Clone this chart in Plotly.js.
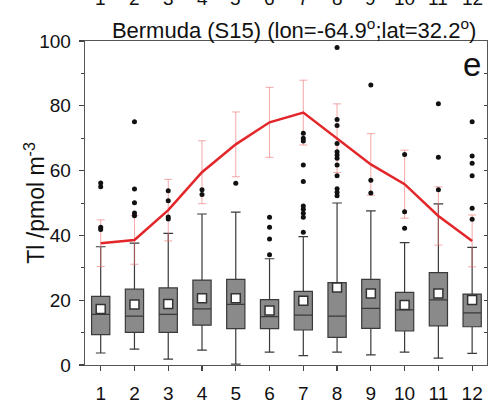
<!DOCTYPE html>
<html>
<head>
<meta charset="utf-8">
<script src="https://cdn.plot.ly/plotly-3.0.1.min.js"></script>
<style>html,body{margin:0;padding:0;background:#fff;}#chart{width:491px;height:403px;}</style>
</head>
<body>
<div id="chart"></div>
<script>
// Months (x categories)
var months = [1, 2, 3, 4, 5, 6, 7, 8, 9, 10, 11, 12];
var tickLabels = ["1","2","3","4","5","6","7","8","9","10","11","12"];

// Box statistics (Tl, pmol m^-3)
var q1Vals     = [9.4, 10.1, 10.1, 12.3, 11.2, 11.2, 10.8, 8.5, 11.3, 10.5, 12.1, 11.8];
var medianVals = [15.6, 15.1, 15.6, 17.3, 18.7, 14.9, 15.4, 15.1, 17.5, 17.0, 20.1, 16.1];
var q3Vals     = [21.2, 23.4, 23.8, 26.2, 26.4, 20.2, 22.7, 25.4, 26.4, 22.4, 28.5, 21.9];
var lowerVals  = [3.7, 4.9, 1.8, 4.6, 0.3, 4.0, 2.9, 4.0, 3.1, 4.0, 2.1, 3.6];
var upperVals  = [36.5, 37.6, 40.6, 46.6, 47.2, 32.8, 39.6, 50.0, 47.6, 37.8, 49.7, 36.3];
var boxMeans   = [17.3, 18.7, 18.8, 20.6, 20.6, 16.8, 19.8, 23.9, 22.1, 18.5, 22.1, 20.1];

// Outliers per month
var out1  = [56.2, 55.0, 42.5, 41.8];
var out2  = [75.1, 54.3, 50.1, 46.9, 46.1];
var out3  = [53.8, 50.7, 45.7, 45.1];
var out4  = [54.1, 52.6];
var out5  = [56.1];
var out6  = [45.6, 42.5, 38.9, 34.0];
var out7  = [71.5, 70.0, 69.1, 61.7, 56.6, 49.1, 48.1, 46.8, 45.6, 41.0];
var out8  = [98.0, 75.8, 73.9, 68.4, 65.8, 64.8, 63.8, 61.7, 58.4, 54.4, 53.3, 52.2];
var out9  = [86.4, 57.0, 53.1];
var out10 = [65.0, 47.3, 42.2];
var out11 = [80.6, 64.1, 54.1];
var out12 = [75.1, 64.5, 62.3, 58.4, 48.4, 45.0];
var outliers = [out1, out2, out3, out4, out5, out6, out7, out8, out9, out10, out11, out12];

// Red line: other mean with standard deviation
var redMean = [37.6, 38.6, 47.8, 59.5, 68.1, 74.9, 77.9, 70.0, 61.9, 55.8, 46.0, 38.3];
var redSD   = [7.2, 7.5, 9.5, 9.7, 10.0, 10.8, 10.0, 10.6, 9.5, 10.5, 9.0, 8.0];

var titleText = "Bermuda (S15) (lon=-64.9<sup>o</sup>;lat=32.2<sup>o</sup>)";
var yTitle = "Tl /pmol m<sup>-3</sup>";
var panelLabel = "e";

var outX = [], outY = [];
outliers.forEach(function (arr, i) {
  arr.forEach(function (v) { outX.push(months[i]); outY.push(v); });
});

var FONT = "Arial, 'Liberation Sans', sans-serif";

var traces = [
  {
    type: "box",
    x: months,
    q1: q1Vals, median: medianVals, q3: q3Vals,
    lowerfence: lowerVals, upperfence: upperVals,
    width: 0.54,
    whiskerwidth: 0.53,
    fillcolor: "#8a8a8a",
    line: {color: "#3a3a3a", width: 1.2},
    boxpoints: false,
    hoverinfo: "skip",
    showlegend: false
  },
  {
    type: "scatter", mode: "lines",
    x: months, y: redMean,
    line: {color: "#e3262a", width: 2.5},
    error_y: {type: "data", array: redSD, visible: true, color: "rgba(236,110,110,0.6)", thickness: 1, width: 4},
    showlegend: false, hoverinfo: "skip"
  },
  {
    type: "scatter", mode: "markers",
    x: outX, y: outY,
    marker: {color: "#111", size: 5, symbol: "circle"},
    showlegend: false, hoverinfo: "skip"
  },
  {
    type: "scatter", mode: "markers",
    x: months, y: boxMeans,
    marker: {color: "#ffffff", size: 9, symbol: "square", line: {color: "#333", width: 1.5}},
    showlegend: false, hoverinfo: "skip"
  },
  {
    type: "scatter", mode: "markers", x: [], y: [], yaxis: "y2",
    showlegend: false, hoverinfo: "skip"
  }
];

var annotations = [
  {text: panelLabel, xref: "paper", yref: "paper", x: 0.963, y: 0.926, xanchor: "center", yanchor: "middle",
   showarrow: false, font: {family: FONT, size: 33, color: "#111"}},
  {text: yTitle, xref: "paper", yref: "paper", x: -0.125, y: 0.5, xanchor: "center", yanchor: "middle",
   textangle: -90, showarrow: false, font: {family: FONT, size: 23, color: "#111"}}
];
// Tick labels of the panel above, cut by the top edge
months.forEach(function (m, i) {
  annotations.push({text: tickLabels[i], xref: "x", yref: "paper", x: m, y: 1.0926, xanchor: "center", yanchor: "bottom",
    showarrow: false, font: {family: FONT, size: 19, color: "#111"}});
});

var layout = {
  width: 491, height: 403,
  margin: {l: 85, r: 4, t: 41, b: 38},
  paper_bgcolor: "#fff", plot_bgcolor: "#fff",
  font: {family: FONT, color: "#111"},
  title: {text: titleText, xref: "container", yref: "container", x: 0.599, y: 0.925,
          xanchor: "center", yanchor: "middle", font: {family: FONT, size: 22, color: "#111"}},
  xaxis: {
    range: [0.535, 12.44], tickvals: months, ticktext: tickLabels,
    ticks: "outside", ticklen: 5, tickcolor: "#444", tickwidth: 1.2,
    showline: true, linecolor: "#555", linewidth: 1.3, mirror: true,
    showgrid: false, zeroline: false,
    tickfont: {family: FONT, size: 19, color: "#111"}, ticklabelstandoff: 6
  },
  yaxis: {
    range: [0, 100], dtick: 20, tick0: 0,
    ticks: "outside", ticklen: 5, tickcolor: "#444", tickwidth: 1.2,
    minor: {dtick: 10, ticks: "outside", ticklen: 3, tickcolor: "#444", tickwidth: 1},
    showline: true, linecolor: "#555", linewidth: 1.3, mirror: true,
    showgrid: false, zeroline: false,
    tickfont: {family: FONT, size: 19, color: "#111"}, ticklabelstandoff: 4
  },
  yaxis2: {
    overlaying: "y", side: "right", range: [0, 100], dtick: 10, tick0: 0,
    ticks: "inside", ticklen: 3, tickcolor: "#444", tickwidth: 1,
    showticklabels: false, showgrid: false, zeroline: false, showline: false
  },
  annotations: annotations
};

Plotly.newPlot("chart", traces, layout, {staticPlot: true, displayModeBar: false});
</script>
</body>
</html>
